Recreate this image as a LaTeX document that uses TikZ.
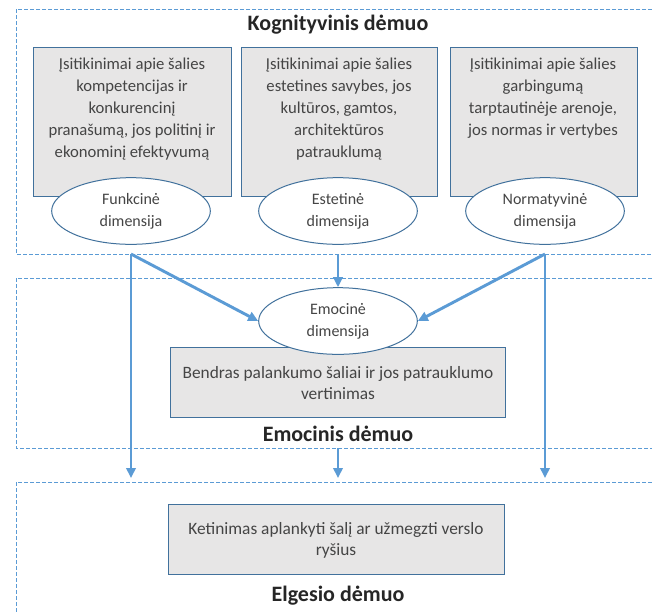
\documentclass[tikz,border=0pt]{standalone}
\usepackage{fontspec}
\setmainfont{Carlito}
\usetikzlibrary{arrows.meta,shapes.geometric}
\definecolor{blue}{HTML}{5b9bd5}
\definecolor{navy}{HTML}{41719c}
\definecolor{grey}{HTML}{e7e6e6}
\definecolor{ink}{HTML}{454545}
\definecolor{dark}{HTML}{262626}

\begin{document}
\begin{tikzpicture}[x=0.75pt,y=0.75pt,yscale=-1,xscale=1,
	frame/.style={draw=blue,line width=0.75pt,dash pattern=on 3pt off 1.5pt},
	gbox/.style={draw=navy,fill=grey,line width=0.75pt},
	txt/.style={inner sep=0pt,align=center,text=ink,font=\fontsize{12.5}{16.5}\selectfont},
	wide/.style={inner sep=0pt,align=center,text=ink,font=\fontsize{13}{15.8}\selectfont},
	ell/.style={ellipse,draw=navy,fill=white,line width=0.75pt,minimum width=119pt,minimum height=50pt,inner sep=0pt,align=center,text=ink,font=\fontsize{12}{16.5}\selectfont},
	head/.style={inner sep=0pt,text=dark,font=\fontsize{16.5}{18}\selectfont\bfseries},
	flow/.style={draw=blue,line width=2.2pt,-{Triangle[length=7.5pt,width=7pt]}}]
	\useasboundingbox (0,0) rectangle (652,612);
	\draw [frame] (652,9) -- (16,9) -- (16,254) -- (652,254) ;
	\draw [frame] (652,278) -- (16,278) -- (16,448) -- (652,448) ;
	\draw [frame] (652,482) -- (16,482) -- (16,612) ;
	\node [head] (kog) at (338,25) {Kognityvinis dėmuo};
	\node [head] (emh) at (338,434) {Emocinis dėmuo};
	\node [head] (elg) at (338,596) {Elgesio dėmuo};
	\draw [gbox] (33,47) rectangle (231,196) ;
	\draw [gbox] (241,47) rectangle (437,196) ;
	\draw [gbox] (450,47) rectangle (637,196) ;
	\node [txt,anchor=north] (t1) at (132,58) {Įsitikinimai apie šalies\\kompetencijas ir\\konkurencinį\\pranašumą, jos politinį ir\\ekonominį efektyvumą};
	\node [txt,anchor=north] (t2) at (339,58) {Įsitikinimai apie šalies\\estetines savybes, jos\\kultūros, gamtos,\\architektūros\\patrauklumą};
	\node [txt,anchor=north] (t3) at (543,58) {Įsitikinimai apie šalies\\garbingumą\\tarptautinėje arenoje,\\jos normas ir vertybes};
	\node [ell] (fun) at (131,211) {Funkcinė\\dimensija};
	\node [ell] (est) at (338,211) {Estetinė\\dimensija};
	\node [ell] (nor) at (545,211) {Normatyvinė\\dimensija};
	\draw [gbox] (170,347) rectangle (505,417) ;
	\node [wide] (ben) at (338,383) {Bendras palankumo šaliai ir jos patrauklumo\\vertinimas};
	\node [ell] (emo) at (338,321) {Emocinė\\dimensija};
	\draw [gbox] (168,504) rectangle (504,574) ;
	\node [wide] (ket) at (336,540) {Ketinimas aplankyti šalį ar užmegzti verslo\\ryšius};
	\coordinate (fout) at (131,254);
	\coordinate (eout) at (338,254);
	\coordinate (nout) at (545,254);
	\coordinate (mout) at (338,448);
	\coordinate (fin) at (131,478);
	\coordinate (nin) at (545,478);
	\coordinate (min) at (338,478);
	\draw [flow] (fout) -- (fin) ;
	\draw [flow] (fout) -- (emo.west) ;
	\draw [flow] (eout) -- (emo.north) ;
	\draw [flow] (nout) -- (emo.east) ;
	\draw [flow] (nout) -- (nin) ;
	\draw [flow] (mout) -- (min) ;
\end{tikzpicture}
\end{document}
